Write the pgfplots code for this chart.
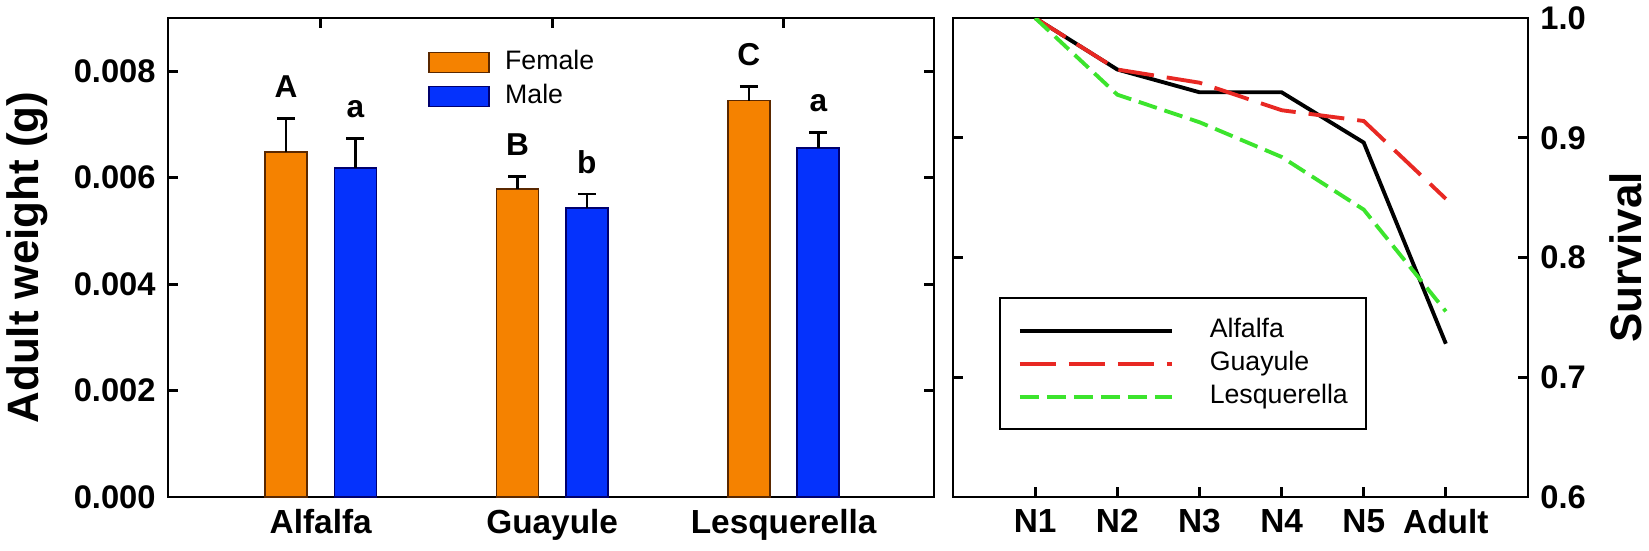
\documentclass[border=0pt]{standalone}
\usepackage{fontspec}
\setmainfont{Liberation Sans}
\usepackage{pgfplots}
\pgfplotsset{compat=1.18}

\definecolor{fem}{RGB}{245,130,0}
\definecolor{femline}{RGB}{90,40,0}
\definecolor{mal}{RGB}{5,50,252}
\definecolor{malline}{RGB}{0,0,110}
\definecolor{gred}{RGB}{232,40,35}
\definecolor{lgreen}{RGB}{60,228,45}

\newcommand{\tickfont}{\bfseries\fontsize{9.3}{11}\selectfont}
\newcommand{\catfont}{\bfseries\fontsize{9.5}{11}\selectfont}
\newcommand{\legfont}{\fontsize{7.6}{9}\selectfont}
\newcommand{\labfont}{\bfseries\fontsize{12.5}{14}\selectfont}

\begin{document}
\begin{tikzpicture}
\useasboundingbox (0,0) rectangle (164.9mm,55mm);

% left panel: adult weight, bars sit at category +- 0.15
\begin{axis}[at={(16.8mm,5.3mm)}, anchor=south west, scale only axis,
    width=76.6mm, height=47.9mm,
    xmin=0.34, xmax=3.65, ymin=0, ymax=0.009,
    axis line style={line width=0.8pt}, tick style={line width=0.8pt,black},
    tick align=inside, major tick length=1mm,
    xtick={1,2,3}, xticklabels={Alfalfa,Guayule,Lesquerella},
    xtick pos=upper, xticklabel pos=lower,
    ytick={0,0.002,0.004,0.006,0.008}, ytick pos=both, yticklabel pos=left,
    scaled y ticks=false,
    yticklabel style={/pgf/number format/.cd,fixed,fixed zerofill,precision=3,assume math mode=true},
    tick label style={font=\tickfont},
    xticklabel style={font=\catfont},
    ylabel={Adult weight (g)}, ylabel shift=0.2mm,
    ylabel style={font=\labfont},
    legend style={at={(0.339,0.944)}, anchor=north west, draw=none, fill=none,
      font=\legfont, inner sep=0pt, row sep=0pt, column sep=1.5mm,
      nodes={inner sep=0pt, minimum height=3.4mm}},
    legend cell align=left,
    error bars/error bar style={line width=0.7pt,black},
    error bars/error mark options={rotate=90,mark size=0.9mm,line width=0.7pt,black}]
  \addplot[ybar, bar width=4.2mm, bar shift=0pt, fill=fem, draw=femline, line width=0.5pt, area legend,
      error bars/.cd, y dir=plus, y explicit]
    coordinates {(0.85,0.00648) +- (0,0.00063) (1.85,0.00579) +- (0,0.00023) (2.85,0.00745) +- (0,0.00026)};
  \addlegendentry{Female}
  \addplot[ybar, bar width=4.2mm, bar shift=0pt, fill=mal, draw=malline, line width=0.5pt, area legend,
      error bars/.cd, y dir=plus, y explicit]
    coordinates {(1.15,0.00618) +- (0,0.00056) (2.15,0.00543) +- (0,0.00026) (3.15,0.00656) +- (0,0.00029)};
  \addlegendentry{Male}
  \begin{scope}[every node/.style={font=\bfseries\fontsize{9}{10}\selectfont, anchor=base, yshift=2.1mm}]
    \node at (axis cs:0.85,0.00711) {A};
    \node at (axis cs:1.15,0.00674) {a};
    \node at (axis cs:1.85,0.00602) {B};
    \node at (axis cs:2.15,0.00569) {b};
    \node at (axis cs:2.85,0.00771) {C};
    \node at (axis cs:3.15,0.00685) {a};
  \end{scope}
\end{axis}

% right panel: survival
\begin{axis}[at={(95.3mm,5.3mm)}, anchor=south west, scale only axis,
    width=57.5mm, height=47.9mm,
    xmin=0, xmax=7, ymin=0.6, ymax=1.0,
    axis line style={line width=0.8pt}, tick style={line width=0.8pt,black},
    tick align=inside, major tick length=1mm,
    xtick={1,2,3,4,5,6}, xticklabels={N1,N2,N3,N4,N5,Adult}, xtick pos=lower,
    ytick={0.6,0.7,0.8,0.9,1.0}, ytick pos=both, yticklabel pos=right,
    yticklabel style={/pgf/number format/.cd,fixed,fixed zerofill,precision=1,assume math mode=true},
    tick label style={font=\tickfont},
    xticklabel style={font=\catfont},
    ylabel={Survival}, ylabel near ticks,
    ylabel style={font=\labfont},
    legend style={at={(0.08,0.14)}, anchor=south west, draw=black, line width=0.5pt,
      font=\legfont, inner xsep=1.8mm, inner ysep=1.6mm, row sep=0pt, column sep=3.6mm,
      nodes={inner sep=0pt, minimum height=3.3mm}},
    legend cell align=left,
    legend image code/.code={\draw[#1] (0mm,0mm) -- (15.2mm,0mm);}]
  \addplot[black, line width=1.1pt]
    coordinates {(1,1.0) (2,0.957) (3,0.938) (4,0.938) (5,0.896) (6,0.728)};
  \addlegendentry{Alfalfa}
  \addplot[gred, line width=1.1pt, dash pattern=on 3.6mm off 1.3mm]
    coordinates {(1,1.0) (2,0.957) (3,0.946) (4,0.923) (5,0.914) (6,0.849)};
  \addlegendentry{Guayule}
  \addplot[lgreen, line width=1.1pt, dash pattern=on 1.9mm off 0.8mm]
    coordinates {(1,1.0) (2,0.936) (3,0.913) (4,0.884) (5,0.840) (6,0.755)};
  \addlegendentry{Lesquerella}
\end{axis}
\end{tikzpicture}
\end{document}
